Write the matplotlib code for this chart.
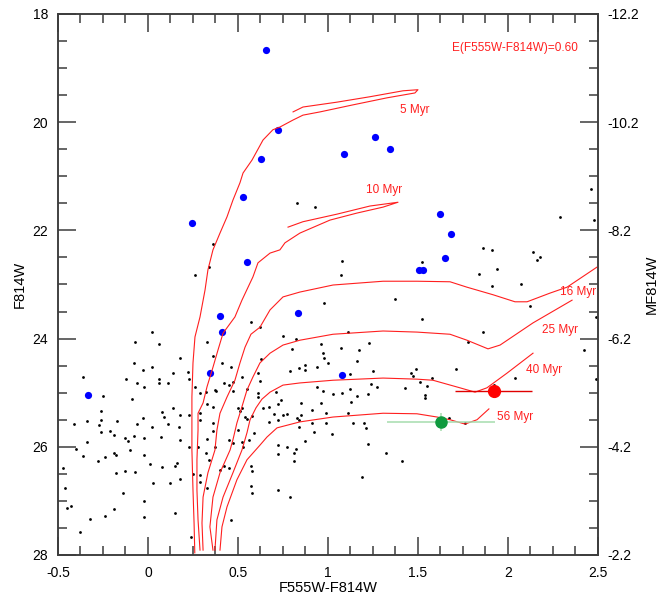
import numpy as np
import matplotlib
matplotlib.use("Agg")
import matplotlib.pyplot as plt
from matplotlib.ticker import MultipleLocator, FuncFormatter

plt.rcParams["font.family"] = ["Liberation Sans", "DejaVu Sans"]
plt.rcParams["axes.unicode_minus"] = False

DIST_MOD = 30.2   # F814W -> M_F814W

# --- field stars (black) ---
bk_col = [
    0.02, -0.07, 0.06, 0.18, -0.08, -0.03, 0.02, 0.14, 0.22, -0.36,
    -0.12, 0.06, 0.11, -0.06, -0.02, 0.06, 0.23, 0.26, -0.25, -0.09,
    0.14, 0.08, 0.18, 0.23, -0.26, -0.03, -0.06, 0.02, 0.09, 0.11,
    0.17, -0.41, -0.34, -0.26, -0.27, -0.17, -0.26, -0.21, -0.19, -0.13,
    -0.11, -0.08, -0.02, 0.07, 0.18, 0.23, -0.34, -0.40, -0.10, -0.02,
    -0.24, -0.36, -0.18, -0.19, -0.28, 0.01, 0.16, 0.15, -0.47, -0.07,
    -0.13, -0.18, 0.08, 0.18, 0.03, 0.12, -0.46, -0.14, -0.43, -0.45,
    -0.02, -0.19, -0.24, -0.02, 0.15, -0.32, -0.38, 0.24,
    0.33, 0.36, 0.41, 0.46, 0.52, 0.42, 0.47, 0.45, 0.37, 0.38,
    0.47, 0.55, 0.29, 0.32, 0.33, 0.36, 0.50, 0.52, 0.51, 0.29,
    0.54, 0.55, 0.29, 0.36, 0.36, 0.50, 0.33, 0.45, 0.56, 0.72,
    0.77, 0.82, 0.37, 0.28, 0.53,
    0.32, 0.47, 0.52, 0.34, 0.42, 0.45, 0.40, 0.57, 0.58, 0.72,
    0.72, 0.25, 0.29, 0.29, 0.33, 0.57, 0.58, 0.46,
    0.81, 0.81, 0.79, 0.87, 1.22,
    1.08, 1.07, 1.52, 1.37, 1.52, 0.98, 0.57, 0.62, 1.11, 0.75,
    0.82, 1.23, 0.96, 0.80, 1.07, 1.17, 0.97, 0.98, 0.63, 1.16,
    1.00, 0.87, 0.84, 0.87, 0.79, 0.94, 0.61, 0.62, 1.12, 1.25,
    1.49, 1.46, 1.47, 1.58, 1.51, 1.55, 1.43, 1.54, 1.54, 1.24,
    1.27, 0.94, 0.97, 1.12, 1.03, 1.08, 1.16, 1.22, 1.13, 0.61,
    0.61, 0.71, 0.74, 0.85, 0.96, 0.72, 0.64, 0.67, 0.58, 0.70,
    0.75, 0.77, 0.85, 0.91, 0.99, 1.11, 0.67, 0.72, 0.83, 0.84,
    0.91, 0.99, 1.14, 1.20, 0.84, 1.21, 0.59, 0.92, 1.02,
    1.86, 1.78, 1.71, 1.32, 1.41, 1.19, 1.67, 1.76, 1.92, 2.04,
    2.42, 2.49, 2.49, 2.12,
    1.86, 1.91, 2.14, 2.18, 2.16, 1.84, 1.94, 1.91, 2.07, 2.29,
    2.46, 2.48,
    0.83, 0.93, 0.36, 0.34, 0.26,
]
bk_mag = [
    23.88, 24.06, 24.10, 24.36, 24.45, 24.58, 24.53, 24.64, 24.62, 24.71,
    24.75, 24.75, 24.82, 24.82, 24.89, 24.82, 24.75, 24.89, 25.06, 25.12,
    25.28, 25.36, 25.41, 25.41, 25.34, 25.47, 25.58, 25.63, 25.45, 25.58,
    25.63, 25.58, 25.52, 25.50, 25.60, 25.52, 25.73, 25.71, 25.78, 25.84,
    25.89, 25.80, 25.84, 25.82, 25.87, 26.00, 25.91, 26.04, 26.06, 26.15,
    26.19, 26.17, 26.15, 26.11, 26.26, 26.32, 26.30, 26.35, 26.39, 26.47,
    26.45, 26.48, 26.37, 26.60, 26.67, 26.67, 26.76, 26.85, 27.09, 27.13,
    27.00, 27.15, 27.28, 27.30, 27.22, 27.33, 27.57, 27.67,
    24.06, 24.32, 24.45, 24.53, 24.71, 24.82, 24.80, 24.86, 24.95, 24.97,
    24.97, 24.93, 25.01, 24.99, 25.21, 25.26, 25.28, 25.28, 25.34, 25.38,
    25.45, 25.49, 25.50, 25.56, 25.71, 25.69, 25.86, 25.87, 25.87, 25.97,
    26.00, 26.04, 26.00, 26.00, 26.00,
    26.11, 25.93, 25.91, 26.24, 26.35, 26.39, 26.43, 26.35, 26.45, 26.13,
    26.80, 26.50, 26.52, 26.65, 26.76, 26.72, 26.85, 27.35,
    26.11, 26.26, 26.93, 25.89, 25.95,
    22.57, 22.82, 22.58, 23.27, 23.64, 23.34, 23.69, 23.79, 23.88, 23.95,
    24.01, 24.08, 24.10, 24.19, 24.17, 24.21, 24.27, 24.36, 24.38, 24.41,
    24.45, 24.49, 24.54, 24.58, 24.60, 24.53, 24.64, 24.78, 24.65, 24.60,
    24.56, 24.64, 24.69, 24.73, 24.80, 24.88, 24.91, 25.04, 25.10, 24.84,
    24.89, 24.89, 24.97, 24.93, 25.02, 25.01, 25.06, 25.02, 25.17, 25.01,
    25.08, 24.99, 25.14, 25.19, 25.19, 25.21, 25.28, 25.26, 25.43, 25.39,
    25.41, 25.39, 25.41, 25.32, 25.38, 25.38, 25.54, 25.50, 25.47, 25.50,
    25.56, 25.56, 25.56, 25.56, 25.63, 25.65, 25.74, 25.73, 25.76,
    23.88, 24.06, 24.56, 26.11, 26.26, 26.56, 25.47, 25.56, 24.86, 24.73,
    24.21, 24.75, 23.60, 23.40,
    22.33, 22.36, 22.40, 22.49, 22.55, 22.81, 22.71, 23.03, 22.99, 21.75,
    21.23, 21.81,
    21.49, 21.57, 22.25, 22.68, 22.82,
]

# --- massive candidates (blue) ---
blue_col = [0.656, 0.722, 0.628, 0.528, 0.244, 0.55, 1.089, 1.261, 1.344, 1.622,
            1.683, 1.65, 1.506, 1.528, 0.833, 0.40, 0.411, 0.344, -0.333, 1.078]
blue_mag = [18.67, 20.14, 20.68, 21.38, 21.86, 22.58, 20.59, 20.27, 20.50, 21.70,
            22.07, 22.51, 22.73, 22.73, 23.53, 23.58, 23.88, 24.64, 25.04, 24.67]

# --- isochrones, E(F555W-F814W)=0.60 ---
iso_5_col = [0.26, 0.256, 0.25, 0.244, 0.244, 0.25, 0.261, 0.289, 0.317, 0.333,
             0.361, 0.40, 0.439, 0.472, 0.511, 0.528, 0.578, 0.639, 0.694, 0.733,
             0.806, 0.861, 0.956, 1.139, 1.328, 1.483, 1.50, 1.417, 1.233, 1.05,
             0.861, 0.806]
iso_5_mag = [27.96, 27.41, 26.80, 26.06, 25.08, 24.45, 23.97, 23.60, 23.10, 22.73,
             22.36, 22.05, 21.75, 21.44, 21.12, 20.94, 20.70, 20.33, 20.14, 20.09,
             19.96, 19.87, 19.81, 19.68, 19.55, 19.46, 19.40, 19.42, 19.53, 19.63,
             19.72, 19.81]

iso_10_col = [0.289, 0.278, 0.272, 0.272, 0.278, 0.278, 0.306, 0.328, 0.361, 0.389,
              0.417, 0.483, 0.522, 0.556, 0.583, 0.611, 0.678, 0.733, 0.761, 0.844,
              1.011, 1.161, 1.306, 1.389, 1.233, 1.05, 0.861, 0.778]
iso_10_mag = [27.91, 27.35, 26.80, 26.24, 25.69, 25.38, 25.19, 24.89, 24.53, 24.21,
              23.90, 23.60, 23.29, 23.05, 22.86, 22.60, 22.42, 22.36, 22.23, 22.05,
              21.81, 21.68, 21.57, 21.48, 21.55, 21.70, 21.84, 21.94]

iso_16_col = [0.306, 0.30, 0.306, 0.333, 0.372, 0.383, 0.40, 0.439, 0.483, 0.511,
              0.539, 0.572, 0.622, 0.678, 0.75, 0.844, 1.028, 1.306, 1.494, 1.678,
              1.772, 1.917, 2.039, 2.106, 2.233, 2.328, 2.494]
iso_16_mag = [27.91, 27.41, 26.93, 26.48, 26.06, 25.69, 25.38, 25.08, 24.77, 24.45,
              24.16, 23.92, 23.79, 23.47, 23.23, 23.14, 23.01, 22.94, 22.94, 22.95,
              23.05, 23.19, 23.32, 23.32, 23.16, 23.05, 22.68]

iso_25_col = [0.361, 0.344, 0.361, 0.40, 0.456, 0.472, 0.494, 0.522, 0.55, 0.583,
              0.622, 0.678, 0.75, 0.844, 1.028, 1.306, 1.494, 1.678, 1.772, 1.889,
              1.956, 2.139, 2.356]
iso_25_mag = [27.91, 27.48, 26.93, 26.48, 26.06, 25.87, 25.56, 25.26, 24.95, 24.71,
              24.45, 24.27, 24.12, 24.03, 23.92, 23.86, 23.88, 23.92, 24.03, 24.19,
              24.12, 23.71, 23.29]

iso_40_col = [0.372, 0.383, 0.417, 0.472, 0.522, 0.55, 0.567, 0.60, 0.633, 0.678,
              0.75, 0.844, 1.028, 1.306, 1.494, 1.583, 1.733, 1.817, 1.883, 1.994,
              2.139]
iso_40_mag = [27.91, 27.35, 26.93, 26.48, 26.06, 25.74, 25.50, 25.28, 25.12, 24.99,
              24.86, 24.82, 24.77, 24.73, 24.75, 24.77, 24.91, 24.99, 24.91, 24.64,
              24.27]

iso_56_col = [0.40, 0.411, 0.439, 0.494, 0.55, 0.622, 0.661, 0.717, 0.844, 1.028,
              1.306, 1.494, 1.606, 1.678, 1.761, 1.828, 1.894]
iso_56_mag = [27.91, 27.48, 27.11, 26.61, 26.24, 25.97, 25.82, 25.65, 25.54, 25.45,
              25.38, 25.39, 25.45, 25.50, 25.58, 25.50, 25.30]

iso_labels = ["5 Myr", "10 Myr", "16 Myr", "25 Myr", "40 Myr", "56 Myr"]
iso_label_col = [1.48, 1.31, 2.39, 2.29, 2.20, 2.04]
iso_label_mag = [19.77, 21.25, 23.14, 23.84, 24.58, 25.45]

# cluster integrated photometry
red_col, red_mag, red_xerr = 1.92, 24.97, 0.215
green_col, green_mag, green_xerr, green_yerr = 1.63, 25.54, 0.30, 0.16

RED = "#ff1f1f"
AX_GREY = "#3c3c3c"

fig = plt.figure(figsize=(6.62, 6.02), dpi=100)
ax = fig.add_axes([0.0876, 0.0781, 0.8157, 0.8987])

ax.plot(bk_col, bk_mag, "o", ms=2.0, color="black", mew=0, zorder=2)
ax.plot(blue_col, blue_mag, "o", ms=5.2, color="#0000ff", mew=0, zorder=3)

isochrones = [
    (iso_5_col, iso_5_mag), (iso_10_col, iso_10_mag), (iso_16_col, iso_16_mag),
    (iso_25_col, iso_25_mag), (iso_40_col, iso_40_mag), (iso_56_col, iso_56_mag),
]
for (c, m) in isochrones:
    ax.plot(c, m, "-", color=RED, lw=0.8, zorder=4)
for lab, c, m in zip(iso_labels, iso_label_col, iso_label_mag):
    ax.text(c, m, lab, color=RED, fontsize=8.5, ha="center", va="center", zorder=5)

ax.errorbar(green_col, green_mag, xerr=green_xerr, yerr=green_yerr, fmt="o",
            ms=8, color="#0f9a3e", ecolor="#a6dcae", elinewidth=1.1, capsize=0,
            zorder=6)
ax.errorbar(red_col, red_mag, xerr=red_xerr, fmt="o", ms=8.5, color="#ff0000",
            ecolor="#e00000", elinewidth=1.0, capsize=0, zorder=6)

ax.text(2.04, 18.63, "E(F555W-F814W)=0.60", color=RED, fontsize=8.5,
        ha="center", va="center")

ax.set_xlim(-0.5, 2.5)
ax.set_ylim(28, 18)
ax.xaxis.set_major_locator(MultipleLocator(0.5))
ax.xaxis.set_minor_locator(MultipleLocator(0.125))
ax.yaxis.set_major_locator(MultipleLocator(2))
ax.yaxis.set_minor_locator(MultipleLocator(0.5))
ax.xaxis.set_major_formatter(FuncFormatter(lambda v, p: f"{v:g}"))
ax.yaxis.set_major_formatter(FuncFormatter(lambda v, p: f"{v:g}"))
ax.tick_params(which="both", direction="in", top=True, right=False,
               color=AX_GREY, width=1.1, labelsize=10)
ax.tick_params(which="major", length=13)
ax.tick_params(which="minor", length=6.5)
ax.tick_params(axis="x", pad=8)
ax.tick_params(axis="y", pad=7)
for s in ax.spines.values():
    s.set_color(AX_GREY)
    s.set_linewidth(1.1)

ax.set_xlabel("F555W-F814W", fontsize=10.5, labelpad=1)
ax.set_ylabel("F814W", fontsize=10.5, labelpad=4)

# absolute magnitude scale on the right
ax2 = ax.twinx()
ax2.set_ylim(28 - DIST_MOD, 18 - DIST_MOD)
mag_major = np.arange(18, 28.01, 2)
mag_minor = np.arange(18, 28.01, 0.5)
ax2.set_yticks(mag_major - DIST_MOD)
ax2.set_yticks(mag_minor - DIST_MOD, minor=True)
ax2.set_yticklabels([f"{v - DIST_MOD:.1f}" for v in mag_major])
ax2.tick_params(which="both", direction="in", color=AX_GREY, width=1.1,
                labelsize=10, pad=7)
ax2.tick_params(which="major", length=13)
ax2.tick_params(which="minor", length=6.5)
for s in ax2.spines.values():
    s.set_color(AX_GREY)
    s.set_linewidth(1.1)
ax2.set_ylabel("MF814W", fontsize=10.5, rotation=90, labelpad=4)

fig.savefig("out.png", dpi=100)
